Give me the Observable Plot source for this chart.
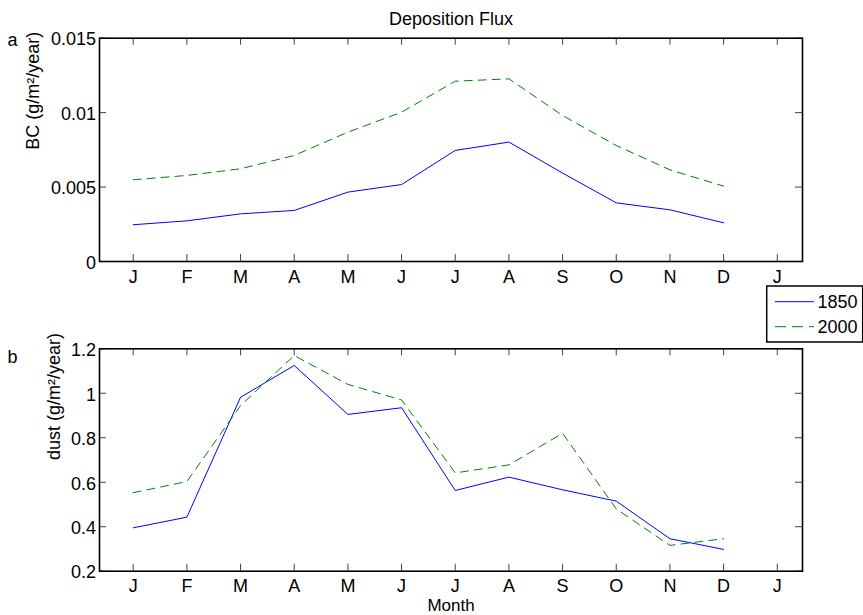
<!DOCTYPE html>
<html><head><meta charset="utf-8">
<script src="https://cdn.jsdelivr.net/npm/d3@7"></script>
<script src="https://cdn.jsdelivr.net/npm/@observablehq/plot@0.6"></script>
<style>
body{margin:0;background:#fff;}
#chart{position:relative;width:863px;height:615px;font-family:"Liberation Sans",Arial,Helvetica,sans-serif;}
#chart svg{display:block}
.panel{position:absolute;left:0}
</style></head><body><div id="chart"></div>
<script>
const months = [1,2,3,4,5,6,7,8,9,10,11,12];
const monthTicks = [1,2,3,4,5,6,7,8,9,10,11,12,13];
const monthLabels = ["J","F","M","A","M","J","J","A","S","O","N","D","J"];
const seriesNames = ["1850","2000"];
const seriesColors = ["#0000ff","#008000"];

const bc1850 = [0.00247,0.00273,0.0032,0.00343,0.00466,0.00517,0.00746,0.00802,0.00594,0.00394,0.00347,0.0026];
const bc2000 = [0.00549,0.00578,0.00623,0.00712,0.00869,0.01003,0.01211,0.01227,0.00981,0.00779,0.00616,0.00506];
const dust1850 = [0.395,0.443,0.982,1.125,0.905,0.935,0.563,0.623,0.566,0.515,0.346,0.298];
const dust2000 = [0.553,0.603,0.945,1.17,1.04,0.97,0.642,0.678,0.82,0.48,0.316,0.346];

const bcTicks = [0,0.005,0.01,0.015];
const dustTicks = [0.2,0.4,0.6,0.8,1,1.2];

function rows(a,b){
  return [
    ...months.map((m,i)=>({month:m, value:a[i], year:seriesNames[0]})),
    ...months.map((m,i)=>({month:m, value:b[i], year:seriesNames[1]}))
  ];
}

const W = 863, ML = 99, MR = 61;
const FONT = "'Liberation Sans', Arial, Helvetica, sans-serif";

function panel(o){
  const fw = W - ML - MR, fh = o.height - o.mt - o.mb;
  const data = rows(o.a, o.b);
  const marks = [
    Plot.line(data.filter(d=>d.year===seriesNames[0]), {x:"month", y:"value", stroke:seriesColors[0], strokeWidth:1}),
    Plot.line(data.filter(d=>d.year===seriesNames[1]), {x:"month", y:"value", stroke:seriesColors[1], strokeWidth:1, strokeDasharray:"8,6"}),
    Plot.tickX(monthTicks, {x:d=>d, stroke:"#444", insetTop:fh-7}),
    Plot.tickX(monthTicks, {x:d=>d, stroke:"#444", insetBottom:fh-7}),
    Plot.tickY(o.yTicks, {y:d=>d, stroke:"#444", insetRight:fw-7}),
    Plot.tickY(o.yTicks, {y:d=>d, stroke:"#444", insetLeft:fw-7}),
    Plot.frame({stroke:"#000", strokeWidth:1.6}),
    Plot.axisX(monthTicks, {tickSize:0, tickPadding:o.xPad, tickFormat:d=>monthLabels[d-1], fontSize:18, label:null}),
    Plot.axisY(o.yTicks, {tickSize:0, tickPadding:3.5, tickFormat:d=>String(d), fontSize:18, dy:1.5, label:null}),
    Plot.text([o.yLabel], {text:d=>d, frameAnchor:"left", rotate:-90, dx:o.labelDx, fontSize:18, lineAnchor:"middle"}),
    Plot.text([o.letter], {text:d=>d, frameAnchor:"top-left", textAnchor:"start", dx:-92, dy:o.letterDy, fontSize:18, lineAnchor:"middle"})
  ];
  if (o.title) marks.push(Plot.text([o.title], {text:d=>d, frameAnchor:"top", dy:-19.2, fontSize:18, lineAnchor:"middle"}));
  if (o.xLabel) marks.push(Plot.text([o.xLabel], {text:d=>d, frameAnchor:"bottom", dy:34.8, fontSize:17, lineAnchor:"middle"}));
  return Plot.plot({
    width: W, height: o.height,
    marginLeft: ML, marginRight: MR, marginTop: o.mt, marginBottom: o.mb,
    x: {domain:[0.372, 13.47], label:null},
    y: {domain:o.yDomain, label:null},
    style: {fontFamily: FONT, fontSize:"18px", background:"transparent", overflow:"visible", color:"#000"},
    marks
  });
}

const chart = document.getElementById("chart");
const top1 = panel({height:300, mt:37.7, mb:39, yDomain:[0,0.015], yTicks:bcTicks, a:bc1850, b:bc2000, xPad:9,
  yLabel:"BC (g/m²/year)", labelDx:-66, letter:"a", letterDy:2.2, title:"Deposition Flux"});
top1.classList.add("panel"); top1.style.top = "0px";
chart.appendChild(top1);

const bot = panel({height:315, mt:48.3, mb:44.3, yDomain:[0.2,1.2], yTicks:dustTicks, a:dust1850, b:dust2000, xPad:8,
  yLabel:"dust (g/m²/year)", labelDx:-45, letter:"b", letterDy:8.2, xLabel:"Month"});
bot.classList.add("panel"); bot.style.top = "300px";
chart.appendChild(bot);

// legend
const leg = d3.select(chart).append("svg")
  .attr("width",97).attr("height",58)
  .style("position","absolute").style("left","766px").style("top","285px").style("z-index",2)
  .style("font-family",FONT);
leg.append("rect").attr("x",0.7).attr("y",1).attr("width",96).attr("height",56)
  .attr("fill","#fff").attr("stroke","#000").attr("stroke-width",1.5);
seriesNames.forEach((name,i)=>{
  const cy = 16.7 + i*25;
  leg.append("line").attr("x1",9).attr("x2",48).attr("y1",cy).attr("y2",cy)
    .attr("stroke",seriesColors[i]).attr("stroke-width",1)
    .attr("stroke-dasharray", i===1 ? "11,6" : null);
  leg.append("text").attr("x",51.5).attr("y",cy+6.6).attr("font-size",18).attr("fill","#000").text(name);
});
</script></body></html>
